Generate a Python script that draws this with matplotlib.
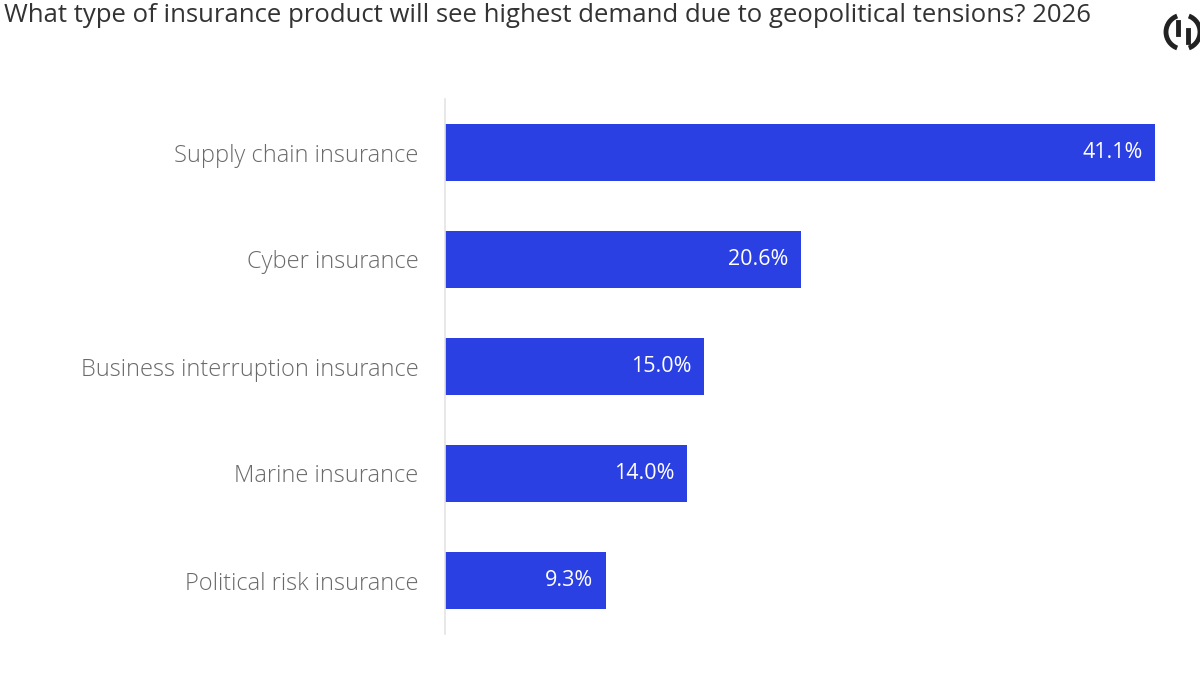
import matplotlib.pyplot as plt
from matplotlib.patches import Arc

categories = ['Supply chain insurance', 'Cyber insurance', 'Business interruption insurance',
              'Marine insurance', 'Political risk insurance']
values = [41.1, 20.6, 15.0, 14.0, 9.3]
value_labels = ['41.1%', '20.6%', '15.0%', '14.0%', '9.3%']

title = 'What type of insurance product will see highest demand due to geopolitical tensions? 2026'

plt.rcParams['font.family'] = ['Open Sans', 'DejaVu Sans']

fig = plt.figure(figsize=(12, 6.75), dpi=100)
# axes placed in pixel terms: x 445..1155 for 0..41.1, y 99..634
ax = fig.add_axes([445 / 1200, 1 - 634 / 675, 710 / 1200, (634 - 99) / 675])

bar_color = '#2a40e2'
y = list(range(len(categories)))
ax.barh(y, values, height=0.54, color=bar_color)
ax.set_xlim(0, 41.1)
ax.set_ylim(4.5, -0.5)

for yi, v, lab in zip(y, values, value_labels):
    ax.text(v - 0.7, yi, lab, ha='right', va='center', color='white', fontsize=15.5)

ax.set_yticks(y)
ax.set_yticklabels(categories, fontsize=17, color='#6a6a6a', fontweight='light')
ax.tick_params(axis='y', length=0, pad=19)
ax.set_xticks([])
for s in ['top', 'right', 'bottom']:
    ax.spines[s].set_visible(False)
ax.spines['left'].set_color('#e4e4e4')
ax.spines['left'].set_linewidth(1.2)

fig.text(4 / 1200, 1 - 15 / 675, title, ha='left', va='center', fontsize=18.5, color='#333333')

# logo
logo_ax = fig.add_axes([0, 0, 1, 1], facecolor='none')
logo_ax.set_xlim(0, 1200)
logo_ax.set_ylim(675, 0)
logo_ax.axis('off')
logo_ax.add_patch(Arc((1183, 32), 34, 34, theta1=110, theta2=250, color='#222222', lw=3.5))
logo_ax.add_patch(Arc((1183, 32), 34, 34, theta1=-70, theta2=70, color='#222222', lw=3.5))
logo_ax.plot([1178, 1178], [22, 34], color='#222222', lw=3.5)
logo_ax.plot([1188, 1188], [30, 42], color='#222222', lw=3.5)

fig.savefig('out.png', dpi=100)
